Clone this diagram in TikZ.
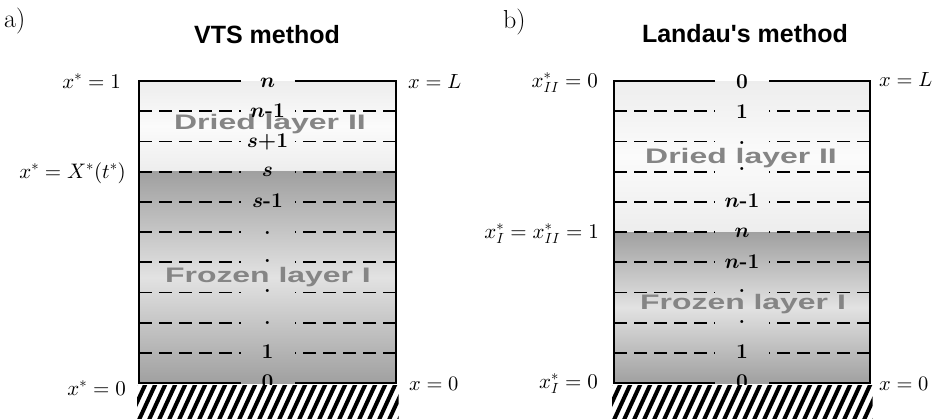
\documentclass[tikz,border=0pt]{standalone}
\usepackage{fontspec}
\newfontfamily\arialf{Liberation Sans}
\DeclareFontShape{OML}{cmm}{m}{it}{<-> cmmi10}{}
\DeclareFontShape{OML}{cmm}{b}{it}{<-> cmmib10}{}
\DeclareFontShape{OMS}{cmsy}{m}{n}{<-> cmsy10}{}
\DeclareFontShape{OMS}{cmsy}{b}{n}{<-> cmbsy10}{}
\DeclareFontShape{OT1}{cmr}{m}{n}{<-> cmr10}{}
\DeclareFontShape{OT1}{cmr}{bx}{n}{<-> cmbx10}{}
\DeclareFontShape{OMX}{cmex}{m}{n}{<-> cmex10}{}
\definecolor{dtop}{HTML}{EDEDED}
\definecolor{dmid}{HTML}{FBFBFB}
\definecolor{ftop}{HTML}{A0A0A0}
\definecolor{fmid}{HTML}{E2E2E2}
\definecolor{laygray}{HTML}{858585}
\newcommand\bmi[1]{{\boldmath$#1$}}
\begin{document}
\begin{tikzpicture}[x=1pt,y=-1pt,
  frame/.style={line width=2.2pt},
  gridline/.style={line width=1.8pt, dash pattern=on 13pt off 7pt},
  lbl/.style={font=\fontsize{21}{25}\selectfont\bfseries, anchor=base, inner sep=0pt},
  sidel/.style={font=\fontsize{21}{25}\selectfont, inner sep=0pt, anchor=base east},
  sider/.style={font=\fontsize{20.5}{25}\selectfont, inner sep=0pt, anchor=base west},
  ttl/.style={font=\arialf\bfseries\fontsize{25}{30}\selectfont, anchor=base, inner sep=0pt},
  panel/.style={font=\fontsize{26}{30}\selectfont, anchor=base west, inner sep=0pt},
  layer/.style={font=\arialf\bfseries\fontsize{21}{25}\selectfont, text=laygray, inner sep=0pt},
  hatch/.style={line width=4pt}
]
\useasboundingbox (0,0) rectangle (933,418);

% ================= panel a =================
\node[panel] (pa) at (4,27) {a)};
\node[ttl] (ta) at (267,43) {VTS method};

\shade[top color=dtop, bottom color=dtop, middle color=dmid] (139,81) rectangle (396,171.6);
\shade[top color=ftop, bottom color=ftop, middle color=fmid] (139,171.6) rectangle (396,383);

\foreach \k in {1,...,9}{
  \pgfmathsetmacro\yy{81+\k*30.2}
  \draw[gridline] (139,\yy) -- (240.5,\yy);
  \draw[gridline] (396,\yy) -- (294.5,\yy);
}
\draw[frame] (240.5,81) -- (139,81) -- (139,383) -- (240.5,383);
\draw[frame] (294.5,81) -- (396,81) -- (396,383) -- (294.5,383);

\node[layer] (da) at (270,124) {\scalebox{1.52}[1]{Dried layer II}};
\node[layer] (fa) at (268,277) {\scalebox{1.52}[1]{Frozen layer I}};

\node[lbl] (a0) at (267.5,87) {\bmi{n}};
\node[lbl] (a1) at (267.5,117.2) {\bmi{n}-1};
\node[lbl] (a2) at (267.5,147.4) {\bmi{s}+1};
\node[lbl] (a3) at (267.5,176.6) {\bmi{s}};
\node[lbl] (a4) at (267.5,207.8) {\bmi{s}-1};
\node[lbl] (a5) at (267.5,234) {.};
\node[lbl] (a6) at (267.5,262.2) {.};
\node[lbl] (a7) at (267.5,292.4) {.};
\node[lbl] (a8) at (267.5,324.6) {.};
\node[lbl] (a9) at (267.5,358.5) {1};
\node[lbl] (a10) at (267.5,388) {0};

\fill[white] (137,385) rectangle (399,418);
\begin{scope}
  \clip (137,385.5) rectangle (398.5,418);
  \foreach \i in {0,...,30}{
    \draw[hatch] (118+\i*10,422) -- ++(17.5,-38);
  }
\end{scope}

\node[sidel] (la1) at (121,88) {$x^{*}=1$};
\node[sidel] (la2) at (126,178) {$x^{*}=X^{*}(t^{*})$};
\node[sidel] (la3) at (126,395) {$x^{*}=0$};
\node[sider] (ra1) at (408,88) {$x=L$};
\node[sider] (ra2) at (409,390) {$x=0$};

% ================= panel b =================
\node[panel] (pb) at (503,28) {b)};
\node[ttl] (tb) at (745,42) {Landau's method};

\shade[top color=dtop, bottom color=dtop, middle color=dmid] (614,81) rectangle (870,232);
\shade[top color=ftop, bottom color=ftop, middle color=fmid] (614,232) rectangle (870,383);

\foreach \k in {1,...,9}{
  \pgfmathsetmacro\yy{81+\k*30.2}
  \draw[gridline] (614,\yy) -- (715,\yy);
  \draw[gridline] (870,\yy) -- (769,\yy);
}
\draw[frame] (715,81) -- (614,81) -- (614,383) -- (715,383);
\draw[frame] (769,81) -- (870,81) -- (870,383) -- (769,383);

\node[layer] (db) at (741,158) {\scalebox{1.52}[1]{Dried layer II}};
\node[layer] (fb) at (743,304) {\scalebox{1.52}[1]{Frozen layer I}};

\node[lbl] (b0) at (742,88) {0};
\node[lbl] (b1) at (742,118.2) {1};
\node[lbl] (b2) at (742,144.4) {.};
\node[lbl] (b3) at (742,170.6) {.};
\node[lbl] (b4) at (742,207.8) {\bmi{n}-1};
\node[lbl] (b5) at (742,237) {\bmi{n}};
\node[lbl] (b6) at (742,268.2) {\bmi{n}-1};
\node[lbl] (b7) at (742,292.4) {.};
\node[lbl] (b8) at (742,323.6) {.};
\node[lbl] (b9) at (742,358.5) {1};
\node[lbl] (b10) at (742,388) {0};

\fill[white] (612,385) rectangle (873,418);
\begin{scope}
  \clip (612,385.5) rectangle (872.5,418);
  \foreach \i in {0,...,30}{
    \draw[hatch] (593+\i*10,422) -- ++(17.5,-38);
  }
\end{scope}

\node[sidel] (lb1) at (598,87) {$x^{*}_{II}=0$};
\node[sidel] (lb2) at (599,238) {$x^{*}_{I}=x^{*}_{II}=1$};
\node[sidel] (lb3) at (598,388) {$x^{*}_{I}=0$};
\node[sider] (rb1) at (879,86) {$x=L$};
\node[sider] (rb2) at (879,390) {$x=0$};
\end{tikzpicture}
\end{document}
